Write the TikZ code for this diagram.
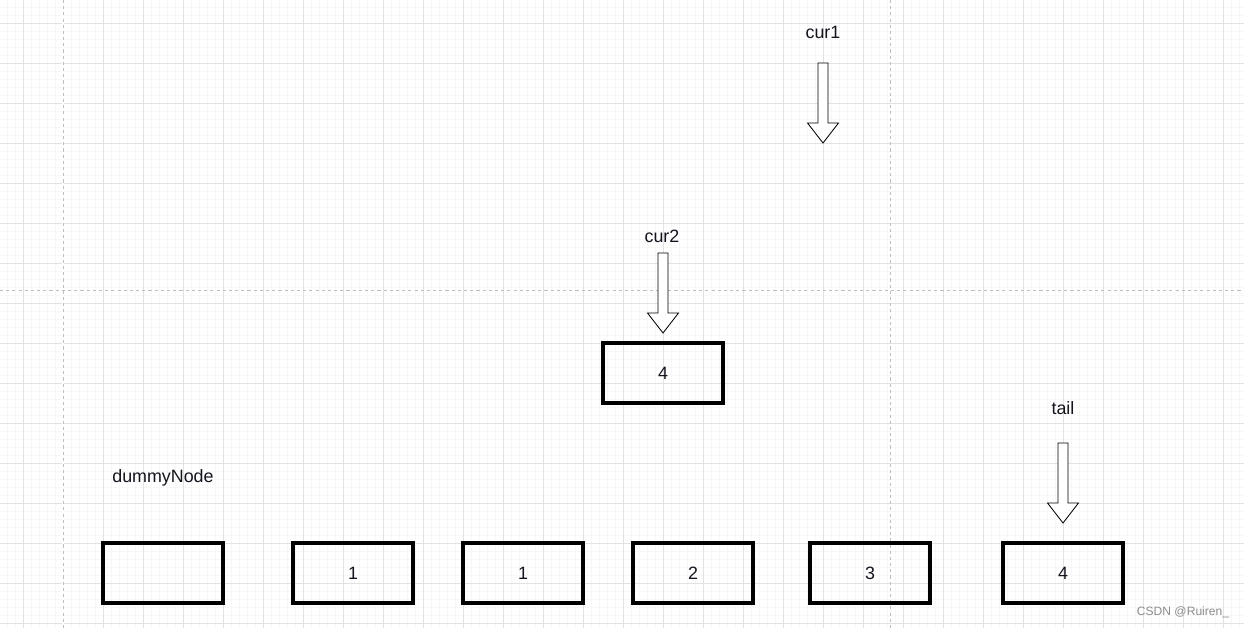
\documentclass[tikz,border=0pt]{standalone}
\usepackage{fontspec}
\setmainfont{Liberation Sans}
\usepackage{tikz}
\usetikzlibrary{positioning}

\definecolor{gridmajor}{RGB}{226,226,226}
\definecolor{gridminor}{RGB}{247,247,247}
\definecolor{pagebreak}{RGB}{190,190,190}
\definecolor{inktext}{RGB}{20,20,30}

\begin{document}
\begin{tikzpicture}[
  x=0.025cm, y=-0.025cm,
  cell/.style={draw=black, line width=0.08cm, minimum width=3cm, minimum height=1.5cm, inner sep=0pt, font=\fontsize{12.7}{15}\selectfont, text=inktext},
  lbl/.style={font=\fontsize{12.7}{15}\selectfont, text=inktext, inner sep=0pt},
  ptr/.style={draw=black, fill=white, line width=0.6pt, line join=miter},
  blockarrow/.pic={\draw[ptr] (-5,0) -- (5,0) -- (5,60) -- (15.5,60) -- (0,80) -- (-15.5,60) -- (-5,60) -- cycle;},
]
  \useasboundingbox (0,0) rectangle (1244,628);
  \fill[white] (0,0) rectangle (1244,628);

  % background grid
  \foreach \x in {7,15,...,1244} \draw[gridminor, line width=0.4pt] (\x,0) -- (\x,628);
  \foreach \y in {7,15,...,628} \draw[gridminor, line width=0.4pt] (0,\y) -- (1244,\y);
  \foreach \x in {23,63,...,1244} \draw[gridmajor, line width=0.5pt] (\x,0) -- (\x,628);
  \foreach \y in {23,63,...,628} \draw[gridmajor, line width=0.5pt] (0,\y) -- (1244,\y);
  \fill[white] (62,0) rectangle (64,628);
  \draw[pagebreak, line width=0.5pt, dash pattern=on 2.2pt off 2.2pt] (63,0) -- (63,628);
  \draw[pagebreak, line width=0.5pt, dash pattern=on 2.2pt off 2.2pt] (890,0) -- (890,628);
  \draw[pagebreak, line width=0.5pt, dash pattern=on 2.2pt off 2.2pt] (0,290) -- (1244,290);

  % list nodes
  \node[cell] (dummy) at (163,573) {};
  \node[cell] (n1) at (353,573) {1};
  \node[cell] (n2) at (523,573) {1};
  \node[cell] (n3) at (693,573) {2};
  \node[cell] (n4) at (870,573) {3};
  \node[cell] (n5) at (1063,573) {4};
  \node[cell] (ins) at (663,373) {4};

  % pointers
  \node[lbl] (ldummy) at (163,478) {dummyNode};
  \node[lbl] (lcur1) at (823,32) {cur1};
  \node[lbl] (lcur2) at (662,236) {cur2};
  \node[lbl] (ltail) at (1063,408) {tail};
  \pic at (823,63) {blockarrow};
  \pic at (663,253) {blockarrow};
  \pic at (1063,443) {blockarrow};

  \node[font=\fontsize{8.6}{10}\selectfont, text=black!45, inner sep=0pt] (mark) at (1183,612) {CSDN @Ruiren\_};
\end{tikzpicture}
\end{document}
